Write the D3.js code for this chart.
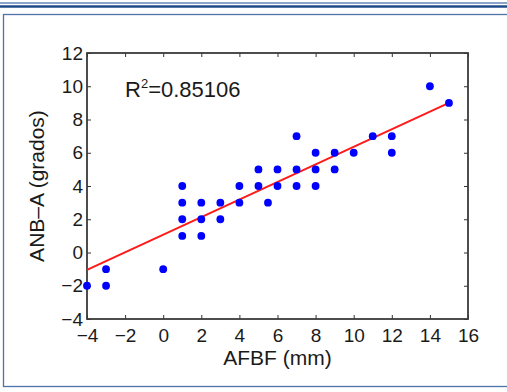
<!DOCTYPE html>
<html>
<head>
<meta charset="utf-8">
<script src="https://cdn.jsdelivr.net/npm/d3@7"></script>
<style>
  body { margin: 0; background: #fff; }
  text { font-family: "Liberation Sans", Arial, sans-serif; fill: #1a1a1a; }
</style>
</head>
<body>
<svg id="canvas"></svg>
<script>
// measured points (AFBF mm, ANB-A grados)
const afbf = [-4, -3, -3, 0, 1, 2, 1, 2, 3, 1, 2, 3, 4, 5.5, 1, 4, 5, 6, 7, 8,
              5, 6, 7, 8, 9, 8, 9, 10, 12, 7, 11, 12, 15, 14];
const anb  = [-2, -2, -1, -1, 1, 1, 2, 2, 2, 3, 3, 3, 3, 3, 4, 4, 4, 4, 4, 4,
              5, 5, 5, 5, 5, 6, 6, 6, 6, 7, 7, 7, 9, 10];
// regression line ends
const fitX = [-4, 15];
const fitY = [-1.05, 9.0];
const xTicks = [-4, -2, 0, 2, 4, 6, 8, 10, 12, 14, 16];
const yTicks = [-4, -2, 0, 2, 4, 6, 8, 10, 12];
const r2Label = "0.85106";

const width = 507, height = 392;
const svg = d3.select("#canvas").attr("width", width).attr("height", height);

// page decoration: double rule on top and frame
svg.append("line").attr("x1", 0).attr("x2", width).attr("y1", 3).attr("y2", 3)
  .attr("stroke", "#8aa3c8").attr("stroke-width", 2);
svg.append("line").attr("x1", 0).attr("x2", width).attr("y1", 6.5).attr("y2", 6.5)
  .attr("stroke", "#1f4a8a").attr("stroke-width", 2.5);
svg.append("rect").attr("x", 3.5).attr("y", 14.5).attr("width", width + 10).attr("height", 372)
  .attr("fill", "none").attr("stroke", "#4f72a8").attr("stroke-width", 1.3);

const margin = { top: 53, left: 87 };
const w = 381, h = 266;
const g = svg.append("g").attr("transform", `translate(${margin.left},${margin.top})`);

const x = d3.scaleLinear().domain([-4, 16]).range([0, w]);
const y = d3.scaleLinear().domain([-4, 12]).range([h, 0]);

const styleAxis = sel => {
  sel.select(".domain").remove();
  sel.selectAll(".tick line").attr("stroke", "#333");
  sel.selectAll("text").attr("font-size", 19).attr("fill", "#1a1a1a")
    .style("font-family", "'Liberation Sans', Arial, sans-serif");
};

g.append("g").attr("transform", `translate(0,${h})`)
  .call(d3.axisBottom(x).tickValues(xTicks).tickSizeInner(-4).tickSizeOuter(0).tickPadding(10))
  .call(styleAxis);
g.append("g")
  .call(d3.axisLeft(y).tickValues(yTicks).tickSizeInner(-4).tickSizeOuter(0).tickPadding(4))
  .call(styleAxis);
g.append("g")
  .call(d3.axisTop(x).tickValues(xTicks).tickSizeInner(-4).tickSizeOuter(0).tickFormat(""))
  .call(styleAxis);
g.append("g").attr("transform", `translate(${w},0)`)
  .call(d3.axisRight(y).tickValues(yTicks).tickSizeInner(-4).tickSizeOuter(0).tickFormat(""))
  .call(styleAxis);

// axes box
g.append("rect").attr("width", w).attr("height", h)
  .attr("fill", "none").attr("stroke", "#3a3a3a").attr("stroke-width", 1.8);

// fit line
g.append("path")
  .datum(d3.zip(fitX, fitY))
  .attr("fill", "none")
  .attr("stroke", "#ff1a1a")
  .attr("stroke-width", 2)
  .attr("d", d3.line().x(d => x(d[0])).y(d => y(d[1])));

// points
g.selectAll("circle")
  .data(d3.zip(afbf, anb))
  .enter()
  .append("circle")
  .attr("cx", d => x(d[0]))
  .attr("cy", d => y(d[1]))
  .attr("r", 3.9)
  .attr("fill", "#0000ff");

// R^2 annotation
const rt = g.append("text").attr("x", 38).attr("y", 44).attr("font-size", 22);
rt.append("tspan").text("R");
rt.append("tspan").attr("font-size", 13).attr("dy", -9).text("2");
rt.append("tspan").attr("dy", 9).text("=" + r2Label);

// axis titles
svg.append("text").attr("x", margin.left + w / 2).attr("y", 365)
  .attr("text-anchor", "middle").attr("font-size", 21).text("AFBF (mm)");
svg.append("text").attr("transform", `translate(44,${margin.top + h / 2}) rotate(-90)`)
  .attr("text-anchor", "middle").attr("font-size", 21).text("ANB\u2013A (grados)");
</script>
</body>
</html>
